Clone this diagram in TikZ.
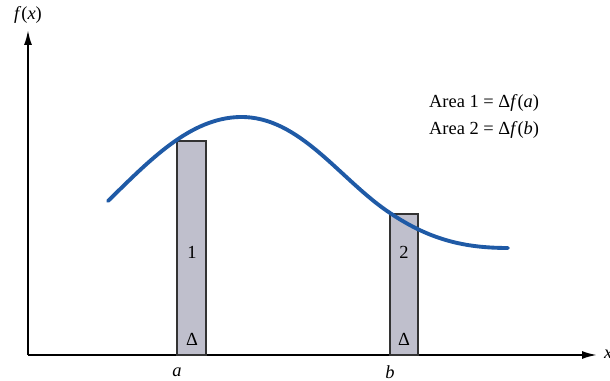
\documentclass[tikz,border=0pt]{standalone}
\usepackage{fontspec}
\setmainfont{Liberation Serif}
\usepackage{xcolor}
\usetikzlibrary{arrows.meta, positioning}

\definecolor{curveblue}{HTML}{1F5AA6}
\definecolor{barfill}{HTML}{BFBFCC}

\begin{document}
\begin{tikzpicture}[
  x=0.02cm, y=-0.02cm,
  axis/.style={-{Latex[length=3mm, width=1.6mm]}, line width=1.1pt},
  bar/.style={draw=black!80, fill=barfill, line width=0.8pt},
  curve/.style={curveblue, line width=2.2pt, line cap=round},
  txt/.style={font=\fontsize{10.5}{12.5}\selectfont, inner sep=1pt}
]
  \useasboundingbox (0,0) rectangle (610,381);
  % axes
  \coordinate (O) at (28,355);
  \coordinate (ytop) at (28,30);
  \coordinate (xend) at (597,355);
  \draw[axis] (O) -- (ytop);
  \draw[axis] (O) -- (xend);
  \node[txt] (fx) at (28,15) {\textit{f}(\textit{x})};
  \node[txt, anchor=west] (xl) at (602,354) {\textit{x}};
  % bars
  \draw[bar] (177,355) rectangle (206,141);
  \draw[bar] (390,355) rectangle (418,214);
  \node[txt] (one) at (192,252) {1};
  \node[txt] (dA) at (192,339) {Δ};
  \node[txt] (two) at (404,252) {2};
  \node[txt] (dB) at (404,339) {Δ};
  \node[txt] (a) at (177,372) {\textit{a}};
  \node[txt] (b) at (390,372) {\textit{b}};
  % the function
  \draw[curve] (108,201) .. controls (150,160) and (190,118) .. (240,117)
    .. controls (300,116) and (340,180) .. (390,213)
    .. controls (430,240) and (465,248) .. (508,248);
  % areas
  \node[txt, anchor=west] (area1) at (427,103) {Area 1 = Δ\textit{f}(\textit{a})};
  \node[txt, anchor=west] (area2) at (427,130) {Area 2 = Δ\textit{f}(\textit{b})};
\end{tikzpicture}
\end{document}
